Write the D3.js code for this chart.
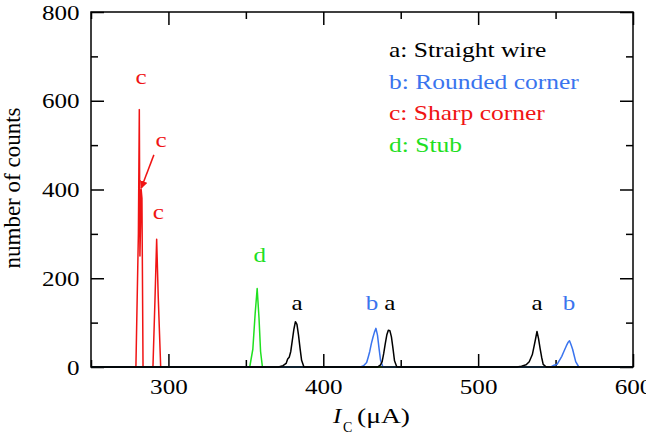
<!DOCTYPE html>
<html>
<head>
<meta charset="utf-8">
<script src="https://cdn.jsdelivr.net/npm/d3@7"></script>
<style>
  body { margin: 0; background: #fff; }
  svg { display: block; font-family: "Liberation Serif", "Times New Roman", serif; }
</style>
</head>
<body>
<svg id="chart" width="646" height="435"></svg>
<script>
// histogram traces, [Ic (uA), counts]
const seriesA = [[250,0],[371,0],[374,3],[376,8],[377,18],[378,22],[379,35],[380,60],[381,85],[382,102],[383,96],[384,72],[385,42],[386,15],[387.5,0],
  [435,0],[437,5],[438,12],[439,30],[440,52],[441,72],[442,83],[443,82],[444,68],[445,42],[446,14],[447.5,0],
  [525,0],[528,2],[531,5],[533,12],[535,28],[536,45],[537,62],[538,80],[539,64],[540,42],[541,22],[542,6],[544,0],[600,0]];
const seriesB = [[250,0],[424,0],[426,3],[428,10],[429,22],[430,35],[431,52],[432,66],[433,78],[434,87],[435,72],[436,42],[437,15],[438.5,0],
  [547,0],[549,4],[551,6],[552,12],[553,18],[554,24],[555,32],[556,40],[557,48],[558,55],[559,59],[560,50],[561,40],[562,26],[563,12],[565,0],[600,0]];
const seriesC = [[250,0],[279,0],[280.6,300],[281.2,580],[281.6,250],[282,320],[282.4,400],[282.9,380],[283.6,0],
  [290,0],[291.3,150],[292.4,288],[293.4,160],[295,0],[600,0]];
const seriesD = [[250,0],[352.5,0],[354.5,40],[356,120],[357.3,177],[358.5,110],[359.5,35],[360.7,0],[600,0]];

const peakLabels = [
  {t: "c", x: 282.3, y: 638, s: "c"},
  {t: "c", x: 295.2, y: 496, s: "c"},
  {t: "c", x: 293.4, y: 333, s: "c"},
  {t: "d", x: 359.0, y: 237, s: "d"},
  {t: "a", x: 383.1, y: 128, s: "a"},
  {t: "b", x: 431.5, y: 128, s: "b"},
  {t: "a", x: 442.9, y: 128, s: "a"},
  {t: "a", x: 538.0, y: 128, s: "a"},
  {t: "b", x: 558.6, y: 128, s: "b"}
];
const arrowFrom = [290.6, 478];
const arrowTo = [282.4, 403];

const legendText = ["a: Straight wire", "b: Rounded corner", "c: Sharp corner", "d: Stub"];
const legendKeys = ["a", "b", "c", "d"];

const xMajor = [300, 400, 500, 600];
const xMinor = [250, 350, 450, 550];
const yMajor = [0, 200, 400, 600, 800];
const yMinor = [100, 300, 500, 700];

const colors = {a: "#000000", b: "#3a74ee", c: "#f01414", d: "#1fe01f"};

const svg = d3.select("#chart");
const margin = {top: 12, right: 13, bottom: 68, left: 91};
const w = 646, h = 435;

const x = d3.scaleLinear().domain([250, 600]).range([margin.left, w - margin.right]);
const y = d3.scaleLinear().domain([0, 800]).range([h - margin.bottom, margin.top]);

const fontSize = 22;
const stretch = 1.14;   // the source type is a bit wide

//  text placed at (px, py) and widened a little
function wideText(px, py, str, color, anchor) {
  return svg.append("text")
    .attr("transform", `translate(${px},${py}) scale(${stretch},1)`)
    .attr("text-anchor", anchor || "start")
    .style("font-size", fontSize + "px")
    .attr("fill", color)
    .text(str);
}

//  axes, ticks pointing inward on every side
function styleAxis(g) {
  g.select(".domain").remove();
  g.selectAll("line").attr("stroke", "#000").attr("stroke-width", 1.5);
  g.selectAll("text")
    .style("font-size", fontSize + "px")
    .style("font-family", "'Liberation Serif', serif")
    .attr("fill", "#000");
}

svg.append("g")
  .attr("transform", `translate(0,${y(0)})`)
  .call(d3.axisBottom(x).tickValues(xMajor).tickSize(-13).tickPadding(11).tickFormat(d3.format("d")))
  .call(styleAxis)
  .selectAll("text").attr("transform", `scale(${stretch},1)`);
svg.append("g")
  .attr("transform", `translate(0,${y(0)})`)
  .call(d3.axisBottom(x).tickValues(xMinor).tickSize(-7).tickFormat(""))
  .call(styleAxis);
svg.append("g")
  .attr("transform", `translate(0,${y(800)})`)
  .call(d3.axisTop(x).tickValues(xMajor).tickSize(-13).tickFormat(""))
  .call(styleAxis);
svg.append("g")
  .attr("transform", `translate(0,${y(800)})`)
  .call(d3.axisTop(x).tickValues(xMinor).tickSize(-7).tickFormat(""))
  .call(styleAxis);

svg.append("g")
  .attr("transform", `translate(${x(250)},0)`)
  .call(d3.axisLeft(y).tickValues(yMajor).tickSize(-13).tickPadding(10).tickFormat(d3.format("d")))
  .call(styleAxis)
  .selectAll("text").attr("transform", `scale(${stretch},1)`);
svg.append("g")
  .attr("transform", `translate(${x(250)},0)`)
  .call(d3.axisLeft(y).tickValues(yMinor).tickSize(-7).tickFormat(""))
  .call(styleAxis);
svg.append("g")
  .attr("transform", `translate(${x(600)},0)`)
  .call(d3.axisRight(y).tickValues(yMajor).tickSize(-13).tickFormat(""))
  .call(styleAxis);
svg.append("g")
  .attr("transform", `translate(${x(600)},0)`)
  .call(d3.axisRight(y).tickValues(yMinor).tickSize(-7).tickFormat(""))
  .call(styleAxis);

//  traces
const line = d3.line().x(d => x(d[0])).y(d => y(d[1]));
[["c", seriesC], ["d", seriesD], ["b", seriesB], ["a", seriesA]].forEach(([k, data]) => {
  svg.append("path")
    .datum(data)
    .attr("d", line)
    .attr("fill", "none")
    .attr("stroke", colors[k])
    .attr("stroke-width", 1.5)
    .attr("stroke-linejoin", "round");
});

//  frame on top of the zero lines
svg.append("rect")
  .attr("x", x(250)).attr("y", y(800))
  .attr("width", x(600) - x(250)).attr("height", y(0) - y(800))
  .attr("fill", "none").attr("stroke", "#000").attr("stroke-width", 1.5);

//  peak labels
peakLabels.forEach(p => wideText(x(p.x), y(p.y), p.t, colors[p.s], "middle"));

//  arrow
svg.append("defs").append("marker")
  .attr("id", "head")
  .attr("viewBox", "0 0 10 10")
  .attr("refX", 9).attr("refY", 5)
  .attr("markerWidth", 8).attr("markerHeight", 8)
  .attr("markerUnits", "userSpaceOnUse")
  .attr("orient", "auto")
  .append("path")
  .attr("d", "M0,0 L10,5 L0,10 z")
  .attr("fill", colors.c);

svg.append("line")
  .attr("x1", x(arrowFrom[0])).attr("y1", y(arrowFrom[1]))
  .attr("x2", x(arrowTo[0])).attr("y2", y(arrowTo[1]))
  .attr("stroke", colors.c)
  .attr("stroke-width", 1.5)
  .attr("marker-end", "url(#head)");

//  legend
legendText.forEach((t, i) => {
  wideText(389, 57 + i * 31.5, t, colors[legendKeys[i]]).attr("transform", `translate(389,${57 + i * 31.5}) scale(1.16,1)`);
});

//  axis titles
svg.append("text")
  .attr("transform", `translate(20,188) rotate(-90)`)
  .attr("text-anchor", "middle")
  .style("font-size", "23px")
  .attr("fill", "#000")
  .text("number of counts");

wideText(333, 423, "I", "#000").style("font-style", "italic");
svg.append("text")
  .attr("x", 343).attr("y", 432)
  .style("font-size", "14px")
  .attr("fill", "#000")
  .text("C");
wideText(357, 423, "(μA)", "#000").attr("transform", "translate(357,423) scale(1.25,1)");
</script>
</body>
</html>
